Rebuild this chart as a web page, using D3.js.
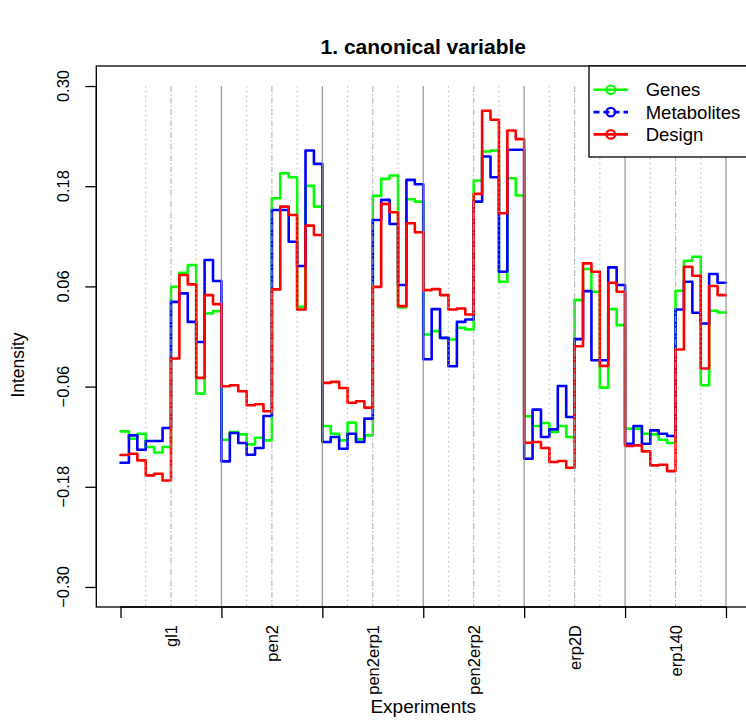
<!DOCTYPE html>
<html>
<head>
<meta charset="utf-8">
<script src="https://cdn.jsdelivr.net/npm/d3@7/dist/d3.min.js"></script>
<style>
  html, body { margin: 0; padding: 0; background: #fff; }
  svg { display: block; font-family: "Liberation Sans", Arial, Helvetica, sans-serif; }
</style>
</head>
<body>
<svg id="chart" width="746" height="720"></svg>
<script>
// Experiments (genotypes), 12 samples each: 4 conditions x 3 replicates
const experiments = ["gl1", "pen2", "pen2erp1", "pen2erp2", "erp2D", "erp140"];

// First canonical variable scores per sample
const genes = [
  -0.1136, -0.1224, -0.1164, -0.1324, -0.1390, -0.1324, 0.0595, 0.0763, 0.0856, -0.0684, 0.0276, 0.0304,
  -0.1236, -0.1144, -0.1172, -0.1292, -0.1212, -0.1244, 0.1656, 0.1956, 0.1908, 0.0356, 0.1804, 0.1556,
  -0.1072, -0.1164, -0.1244, -0.1032, -0.1232, -0.1184, 0.1684, 0.1888, 0.1928, 0.0348, 0.1644, 0.1616,
  0.0024, 0.0064, -0.0016, -0.0036, 0.0104, 0.0084, 0.1868, 0.2216, 0.2228, 0.0656, 0.1896, 0.1688,
  -0.0956, -0.1072, -0.1036, -0.1144, -0.1072, -0.1204, 0.0436, 0.0808, 0.0536, -0.0612, 0.0328, 0.0136,
  -0.1104, -0.1104, -0.1164, -0.1172, -0.1236, -0.1276, 0.0548, 0.0908, 0.0956, -0.0584, 0.0308, 0.0288
];
const metabolites = [
  -0.1512, -0.1184, -0.1356, -0.1252, -0.1252, -0.1096, 0.0415, 0.0516, 0.0175, -0.0065, 0.0916, 0.0664,
  -0.1496, -0.1156, -0.1276, -0.1416, -0.1336, -0.0952, 0.1516, 0.1516, 0.1135, 0.0844, 0.2228, 0.2068,
  -0.1264, -0.1204, -0.1344, -0.1164, -0.1264, -0.0984, 0.1396, 0.1636, 0.1348, 0.0616, 0.1876, 0.1824,
  -0.0272, 0.0328, -0.0016, -0.0356, 0.0175, 0.0204, 0.1616, 0.2156, 0.1908, 0.0776, 0.2236, 0.2236,
  -0.1464, -0.0876, -0.1204, -0.1112, -0.0592, -0.0964, -0.0032, 0.0544, -0.0284, -0.0284, 0.0828, 0.0616,
  -0.1284, -0.1072, -0.1284, -0.1124, -0.1164, -0.1192, 0.0324, 0.0656, 0.0284, 0.0156, 0.0748, 0.0644
];
const design = [
  -0.1420, -0.1404, -0.1484, -0.1664, -0.1644, -0.1724, -0.0264, 0.0736, 0.0624, -0.0496, 0.0496, 0.0388,
  -0.0596, -0.0584, -0.0656, -0.0824, -0.0812, -0.0896, 0.0564, 0.1556, 0.1456, 0.0324, 0.1328, 0.1216,
  -0.0556, -0.0544, -0.0616, -0.0793, -0.0776, -0.0852, 0.0595, 0.1588, 0.1488, 0.0364, 0.1356, 0.1248,
  0.0556, 0.0568, 0.0496, 0.0324, 0.0336, 0.0264, 0.1708, 0.2704, 0.2596, 0.1476, 0.2468, 0.2364,
  -0.1272, -0.1264, -0.1336, -0.1504, -0.1492, -0.1572, -0.0116, 0.0876, 0.0776, -0.0352, 0.0644, 0.0536,
  -0.1312, -0.1304, -0.1376, -0.1544, -0.1536, -0.1612, -0.0156, 0.0836, 0.0728, -0.0384, 0.0604, 0.0496
];

const yTicks = [-0.30, -0.18, -0.06, 0.06, 0.18, 0.30];
const seriesNames = ["Genes", "Metabolites", "Design"];
const seriesColors = ["#00ff00", "#0000ff", "#ff0000"];

const perGroup = 12, perCond = 3;
const n = genes.length;               // 72 samples
const xlim = [1, n + 1], ylim = [-0.3, 0.3];
const px = (xlim[1] - xlim[0]) * 0.04, py = (ylim[1] - ylim[0]) * 0.04;

// plot region
const plot = { left: 96.3, right: 750.2, top: 66, bottom: 607 };

const x = d3.scaleLinear().domain([xlim[0] - px, xlim[1] + px]).range([plot.left, plot.right]);
const y = d3.scaleLinear().domain([ylim[0] - py, ylim[1] + py]).range([plot.bottom, plot.top]);

const svg = d3.select("#chart");
const fmt = v => d3.format(".2f")(v).replace("-", "\u2212");

// clip data and guides to the plot region
svg.append("defs").append("clipPath").attr("id", "plotclip")
  .append("rect").attr("x", plot.left).attr("y", plot.top)
  .attr("width", plot.right - plot.left).attr("height", plot.bottom - plot.top);

const dataG = svg.append("g").attr("clip-path", "url(#plotclip)");

// step lines: sample i spans [i, i+1]
const stepLine = d3.line().x(d => x(d[0])).y(d => y(d[1])).curve(d3.curveStepAfter);
[genes, metabolites, design].forEach((vals, s) => {
  const pts = vals.map((v, i) => [i + 1, v]);
  pts.push([n + 1, vals[n - 1]]);
  dataG.append("path")
    .attr("d", stepLine(pts))
    .attr("fill", "none")
    .attr("stroke", seriesColors[s])
    .attr("stroke-width", 2.6)
    .attr("stroke-linejoin", "round")
    .attr("stroke-linecap", "round");
});

// condition / experiment separators
const guides = d3.range(1, n / perCond + 1).map(k => 1 + k * perCond);
dataG.selectAll("line.guide").data(guides).join("line")
  .attr("class", "guide")
  .attr("x1", d => x(d)).attr("x2", d => x(d))
  .attr("y1", y(0.3)).attr("y2", plot.bottom)
  .attr("stroke", d => ((d - 1) % perGroup === 0) ? "#8c8c8c" : "#a8a8a8")
  .attr("stroke-opacity", 0.85)
  .attr("stroke-width", d => ((d - 1) % perGroup === 0) ? 1.3 : 1.1)
  .attr("stroke-dasharray", d => {
    const k = (d - 1) / perCond;
    if (k % 4 === 0) return null;
    if (k % 4 === 2) return "6,2,1.5,2";
    return "1.3,3.5";
  });

// box
svg.append("rect")
  .attr("x", plot.left).attr("y", plot.top)
  .attr("width", plot.right - plot.left).attr("height", plot.bottom - plot.top)
  .attr("fill", "none").attr("stroke", "#000").attr("stroke-width", 1.3);

// y axis
const yAxis = svg.append("g").attr("transform", `translate(${plot.left},0)`)
  .call(d3.axisLeft(y).tickValues(yTicks).tickSize(11).tickPadding(0).tickFormat(""));
yAxis.select(".domain").attr("d", `M0,${y(ylim[1])}V${y(ylim[0])}`).attr("stroke-width", 1.3);
yAxis.selectAll(".tick line").attr("stroke-width", 1.3);
svg.append("g").selectAll("text").data(yTicks).join("text")
  .attr("transform", d => `translate(68.6,${y(d)}) rotate(-90)`)
  .attr("text-anchor", "middle")
  .attr("font-size", 16.5)
  .text(fmt);

// x axis: ticks at experiment boundaries, labels at experiment centres
const bounds = d3.range(0, experiments.length + 1).map(g => 1 + g * perGroup);
const xAxis = svg.append("g").attr("transform", `translate(0,${plot.bottom})`)
  .call(d3.axisBottom(x).tickValues(bounds).tickSize(11).tickFormat(""));
xAxis.select(".domain").attr("d", `M${x(bounds[0])},0H${x(bounds[bounds.length - 1])}`).attr("stroke-width", 1.3);
xAxis.selectAll(".tick line").attr("stroke-width", 1.3);
svg.append("g").selectAll("text").data(experiments).join("text")
  .attr("transform", (d, i) => `translate(${x(1 + i * perGroup + perGroup / 2) + 6},625) rotate(-90)`)
  .attr("text-anchor", "end")
  .attr("font-size", 16.5)
  .text(d => d);

// titles
svg.append("text")
  .attr("x", (plot.left + plot.right) / 2).attr("y", 54)
  .attr("text-anchor", "middle").attr("font-weight", "bold").attr("font-size", 21)
  .text("1. canonical variable");
svg.append("text")
  .attr("x", (plot.left + plot.right) / 2).attr("y", 713)
  .attr("text-anchor", "middle").attr("font-size", 19)
  .text("Experiments");
svg.append("text")
  .attr("transform", `translate(24,365) rotate(-90)`)
  .attr("text-anchor", "middle").attr("font-size", 17.5)
  .text("Intensity");

// legend
const lg = svg.append("g");
lg.append("rect").attr("x", 589).attr("y", plot.top).attr("width", 170).attr("height", 91)
  .attr("fill", "#fff").attr("stroke", "#000").attr("stroke-width", 1.3);
seriesNames.forEach((name, i) => {
  const yy = 89.8 + i * 22.3;
  lg.append("line").attr("x1", 593.5).attr("x2", 628).attr("y1", yy).attr("y2", yy)
    .attr("stroke", seriesColors[i]).attr("stroke-width", 2.6)
    .attr("stroke-dasharray", i === 1 ? "6,4" : null);
  lg.append("circle").attr("cx", 610.8).attr("cy", yy).attr("r", 4.3)
    .attr("fill", "none").attr("stroke", seriesColors[i]).attr("stroke-width", 2.2);
  lg.append("text").attr("x", 645.7).attr("y", yy).attr("dy", "0.35em")
    .attr("font-size", 18.5).text(name);
});
</script>
</body>
</html>
